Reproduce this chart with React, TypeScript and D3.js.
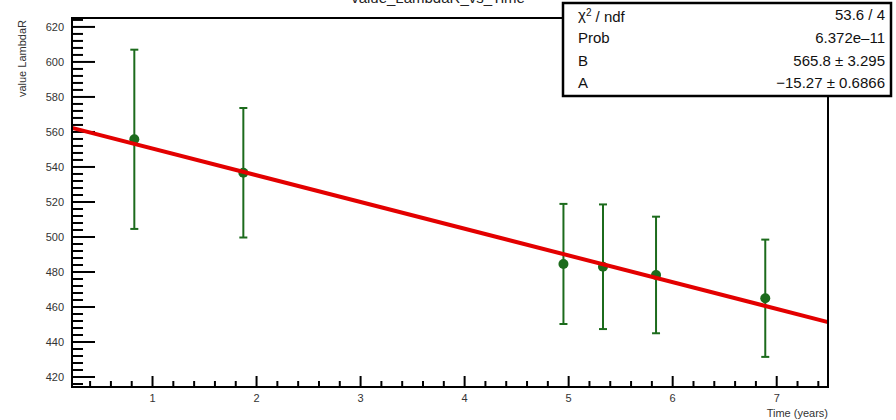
import React, { useEffect, useRef } from 'react';
import * as d3 from 'd3';

// measured points: time (years), LambdaR value, error
const times = [0.825, 1.873, 4.95, 5.33, 5.84, 6.89];
const values = [555.8, 536.7, 484.6, 483.0, 478.3, 465.0];
const errors = [51.2, 37.0, 34.3, 35.6, 33.3, 33.5];

// fit result  y = B + A * x
const fitB = 565.8;
const fitA = -15.27;

const statLabels = ['χ2 / ndf', 'Prob', 'B', 'A'];
const statValues = ['53.6 / 4', '6.372e\u201311', '565.8 ± 3.295', '\u221215.27 ± 0.6866'];

const xMajor = [1, 2, 3, 4, 5, 6, 7];
const yMajor = [420, 440, 460, 480, 500, 520, 540, 560, 580, 600, 620];

function App() {
    const svgRef = useRef<SVGSVGElement>(null);

    useEffect(() => {
        const width = 896;
        const height = 420;
        const left = 72, right = 828, top = 18, bottom = 387;
        const font = 'Liberation Sans, Arial, sans-serif';

        const svg = d3.select(svgRef.current)
            .attr('width', width)
            .attr('height', height);
        svg.selectAll('*').remove();

        const x = d3.scaleLinear().domain([0.226, 7.493]).range([left, right]);
        const y = d3.scaleLinear().domain([414.3, 625.1]).range([bottom, top]);

        // title (mostly cut off at the top, as in the original)
        svg.append('text')
            .attr('x', 438)
            .attr('y', 3)
            .attr('text-anchor', 'middle')
            .style('font-family', font)
            .style('font-size', '15px')
            .attr('fill', '#222')
            .text('value_LambdaR_vs_Time');

        // ticks
        const xMinor = d3.range(0.4, 7.49, 0.2).filter(v => Math.abs(v - Math.round(v)) > 0.01);
        const yMinor = d3.range(416, 625, 4).filter(v => v % 20 !== 0);

        const ticks = svg.append('g').attr('stroke', '#000').attr('stroke-width', 2);
        ticks.selectAll('.xmaj').data(xMajor).enter().append('line')
            .attr('x1', d => x(d)).attr('x2', d => x(d))
            .attr('y1', bottom).attr('y2', bottom - 11);
        ticks.selectAll('.xmin').data(xMinor).enter().append('line')
            .attr('x1', d => x(d)).attr('x2', d => x(d))
            .attr('y1', bottom).attr('y2', bottom - 6);
        ticks.selectAll('.ymaj').data(yMajor).enter().append('line')
            .attr('x1', left).attr('x2', left + 23)
            .attr('y1', d => y(d)).attr('y2', d => y(d));
        ticks.selectAll('.ymin').data(yMinor).enter().append('line')
            .attr('x1', left).attr('x2', left + 11)
            .attr('y1', d => y(d)).attr('y2', d => y(d));

        // tick labels
        svg.selectAll('.xlab').data(xMajor).enter().append('text')
            .attr('x', d => x(d))
            .attr('y', 402)
            .attr('text-anchor', 'middle')
            .style('font-family', font)
            .style('font-size', '11px')
            .attr('fill', '#333')
            .text(d => d);
        svg.selectAll('.ylab').data(yMajor).enter().append('text')
            .attr('x', 64)
            .attr('y', d => y(d))
            .attr('dy', '0.35em')
            .attr('text-anchor', 'end')
            .style('font-family', font)
            .style('font-size', '11px')
            .attr('fill', '#333')
            .text(d => d);

        // axis titles
        svg.append('text')
            .attr('x', right)
            .attr('y', 417)
            .attr('text-anchor', 'end')
            .style('font-family', font)
            .style('font-size', '11px')
            .attr('fill', '#333')
            .text('Time (years)');
        svg.append('text')
            .attr('transform', `translate(26,${top + 2}) rotate(-90)`)
            .attr('text-anchor', 'end')
            .style('font-family', font)
            .style('font-size', '11px')
            .attr('fill', '#333')
            .text('value LambdaR');

        // error bars
        const pts = times.map((t, i) => ({ t, v: values[i], e: errors[i] }));
        const green = '#1c6b1c';
        const bars = svg.append('g').attr('stroke', green).attr('stroke-width', 2);
        bars.selectAll('.err').data(pts).enter().append('line')
            .attr('x1', d => x(d.t)).attr('x2', d => x(d.t))
            .attr('y1', d => y(d.v + d.e)).attr('y2', d => y(d.v - d.e));
        bars.selectAll('.capt').data(pts).enter().append('line')
            .attr('x1', d => x(d.t) - 4).attr('x2', d => x(d.t) + 4)
            .attr('y1', d => y(d.v + d.e)).attr('y2', d => y(d.v + d.e));
        bars.selectAll('.capb').data(pts).enter().append('line')
            .attr('x1', d => x(d.t) - 4).attr('x2', d => x(d.t) + 4)
            .attr('y1', d => y(d.v - d.e)).attr('y2', d => y(d.v - d.e));

        svg.selectAll('.pt').data(pts).enter().append('circle')
            .attr('cx', d => x(d.t))
            .attr('cy', d => y(d.v))
            .attr('r', 5)
            .attr('fill', green);

        // fit line
        const dom = x.domain();
        const line = d3.line<number>().x(d => x(d)).y(d => y(fitB + fitA * d));
        svg.append('path')
            .attr('d', line(dom))
            .attr('stroke', '#e30000')
            .attr('stroke-width', 4)
            .attr('fill', 'none');

        // frame
        svg.append('rect')
            .attr('x', left).attr('y', top)
            .attr('width', right - left).attr('height', bottom - top)
            .attr('fill', 'none')
            .attr('stroke', '#000')
            .attr('stroke-width', 2);

        // stats box
        const box = svg.append('g');
        box.append('rect')
            .attr('x', 563).attr('y', 3)
            .attr('width', 328).attr('height', 93)
            .attr('fill', '#fff')
            .attr('stroke', '#000')
            .attr('stroke-width', 2.5);
        const rowY = [15, 38, 61, 83];
        const labels = box.selectAll('.sl').data(statLabels).enter().append('text')
            .attr('x', 578)
            .attr('y', (d, i) => rowY[i])
            .attr('dy', '0.35em')
            .style('font-family', font)
            .style('font-size', '15px')
            .attr('fill', '#111');
        labels.each(function (d) {
            const t = d3.select(this);
            if (d.startsWith('χ2')) {
                t.append('tspan').text('χ');
                t.append('tspan').attr('dy', '-0.4em').style('font-size', '10px').text('2');
                t.append('tspan').attr('dy', '0.4em').text(' / ndf');
            } else {
                t.text(d);
            }
        });
        box.selectAll('.sv').data(statValues).enter().append('text')
            .attr('x', 885)
            .attr('y', (d, i) => rowY[i])
            .attr('dy', '0.35em')
            .attr('text-anchor', 'end')
            .style('font-family', font)
            .style('font-size', '15px')
            .attr('fill', '#111')
            .text(d => d);
    }, []);

    return (
        <svg ref={svgRef} style={{ position: 'absolute', left: 0, top: 0, background: '#fff' }}></svg>
    );
}

export default App;
